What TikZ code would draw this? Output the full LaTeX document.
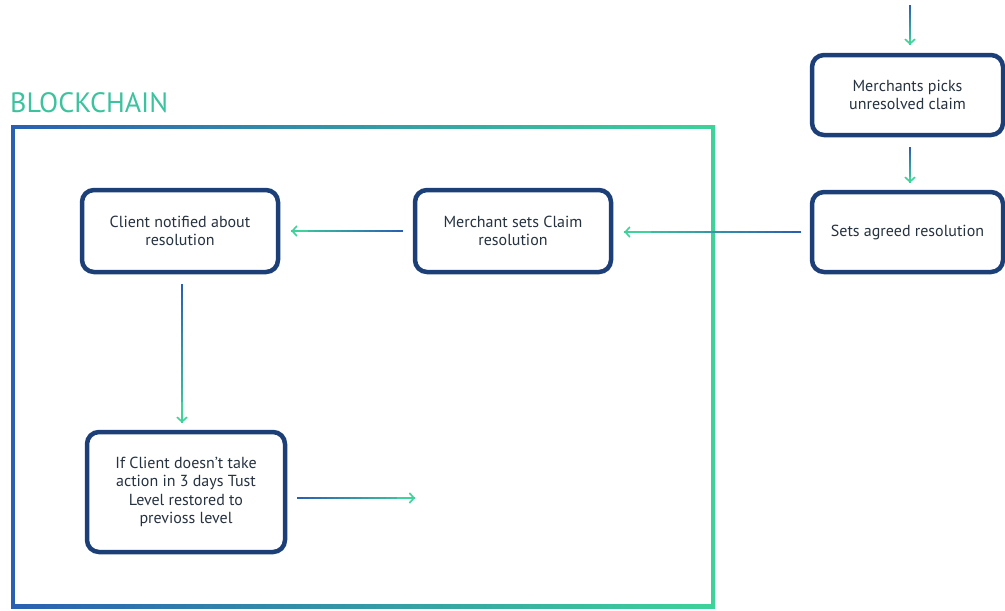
\documentclass[tikz,border=0pt]{standalone}
\usepackage{fontspec}
\setmainfont{PT Sans}
\usetikzlibrary{arrows.meta,calc}
\definecolor{fblue}{HTML}{2A60B2}
\definecolor{fgreen}{HTML}{3ED39A}
\definecolor{boxnavy}{HTML}{1D3F78}
\definecolor{txtgray}{HTML}{26323F}
\tikzset{
  stepbox/.style={draw=boxnavy, line width=4.5pt, rounded corners=12pt, fill=white,
    align=center, text=txtgray, inner sep=0pt, font=\fontsize{16}{18.5}\selectfont},
  headtip/.style={-{Straight Barb[length=4.5pt,width=10pt,line width=1.6pt]}, draw=fgreen, line width=1.6pt},
}
% gradient connector: #1 start coordinate, #2 end coordinate
\newcommand{\gradlink}[2]{%
  \foreach \k in {0,...,19}{%
    \pgfmathsetmacro\ka{\k/20}%
    \pgfmathsetmacro\kb{min(1,(\k+1.3)/20)}%
    \pgfmathtruncatemacro\pc{5*\k}%
    \draw[line width=1.6pt, color=fgreen!\pc!fblue] ($(#1)!\ka!(#2)$) -- ($(#1)!\kb!(#2)$);
  }%
  \draw[headtip] ($(#1)!0.85!(#2)$) -- (#2);
}
\begin{document}
\begin{tikzpicture}[x=1pt,y=-1pt]
\useasboundingbox (0,0) rectangle (1005,611);
% blockchain frame
\shade[left color=fblue, right color=fgreen] (11,125) rectangle (715,608);
\fill[white] (15,129) rectangle (711,604);
\node[anchor=south west, inner sep=0pt, text=fgreen!85!fblue, font=\fontsize{28}{28}\selectfont] (title) at (10,113) {BLOCKCHAIN};

\node[stepbox, minimum width=191pt, minimum height=80pt] (mp) at (907.5,95) {Merchants picks\\unresolved claim};
\node[stepbox, minimum width=191pt, minimum height=80pt] (sa) at (907.5,232) {Sets agreed resolution};
\node[stepbox, minimum width=196pt, minimum height=82pt] (ms) at (513,231) {Merchant sets Claim\\resolution};
\node[stepbox, minimum width=196pt, minimum height=82pt] (cn) at (180,231) {Client notified about\\resolution};
\node[stepbox, minimum width=198pt, minimum height=120pt] (lv) at (186,492) {If Client doesn’t take\\action in 3 days Tust\\Level restored to\\previoss level};

\coordinate (topin) at (910,5);
\coordinate (outend) at (415,498);

\coordinate (c1s) at (topin);
\coordinate (c1e) at ($(mp.north -| topin)+(0,-8)$);
\gradlink{c1s}{c1e}
\coordinate (c2s) at ($(mp.south -| topin)+(0,10)$);
\coordinate (c2e) at ($(sa.north -| topin)+(0,-7)$);
\gradlink{c2s}{c2e}
\coordinate (c3s) at ($(sa.west)+(-9,0)$);
\coordinate (c3e) at ($(ms.east |- sa.west)+(11,0)$);
\gradlink{c3s}{c3e}
\coordinate (c4s) at ($(ms.west)+(-10,0)$);
\coordinate (c4e) at ($(cn.east)+(11,0)$);
\gradlink{c4s}{c4e}
\coordinate (c5s) at ($(cn.south)+(2,10)$);
\coordinate (c5e) at ($(lv.north -| c5s)+(0,-7)$);
\gradlink{c5s}{c5e}
\coordinate (c6s) at ($(lv.east |- outend)+(10,0)$);
\gradlink{c6s}{outend}
\end{tikzpicture}
\end{document}
